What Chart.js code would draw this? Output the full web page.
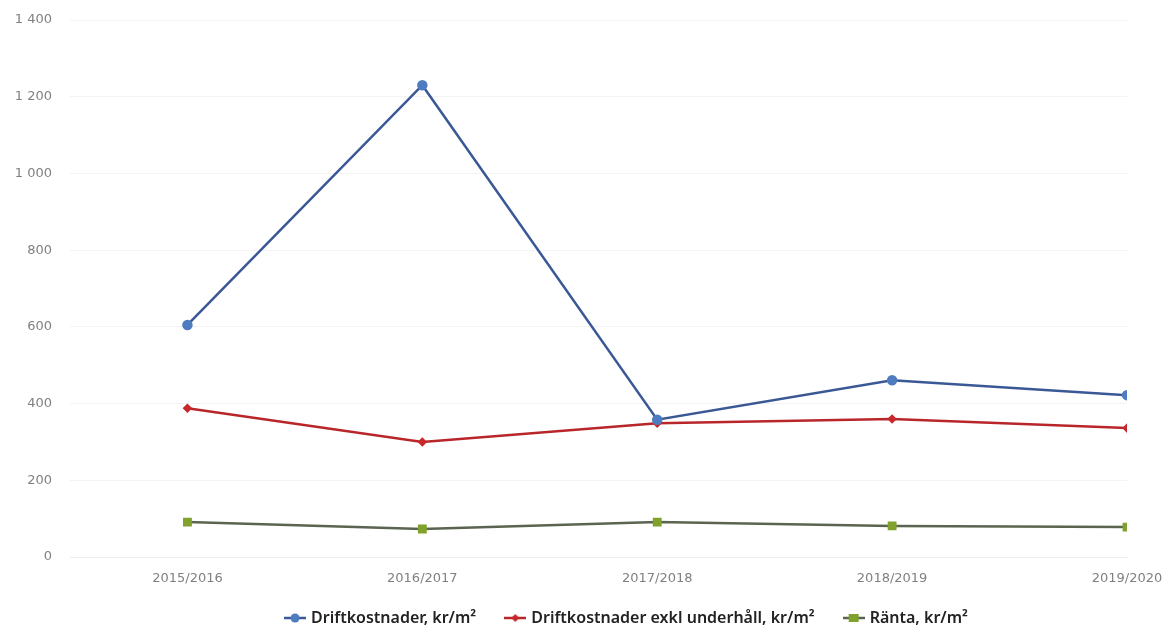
<!DOCTYPE html>
<html>
<head>
<meta charset="utf-8">
<script src="https://cdn.jsdelivr.net/npm/chart.js@4"></script>
<style>
  html, body { margin: 0; padding: 0; background: #fff; }
  #wrap { width: 1169px; height: 628px; }
</style>
</head>
<body>
<div id="wrap"><canvas id="chart"></canvas></div>
<script>
const years = ['2015/2016', '2016/2017', '2017/2018', '2018/2019', '2019/2020'];
const driftkostnader = [605, 1230, 358, 461, 422];
const exklUnderhall = [388, 300, 349, 360, 336];
const ranta = [91, 73, 91, 81, 78];
const yTicks = [0, 200, 400, 600, 800, 1000, 1200, 1400];

const series = [
  { label: 'Driftkostnader, kr/m²', values: driftkostnader, line: '#3a5896', fill: '#4f7cc0', style: 'circle', r: 4 },
  { label: 'Driftkostnader exkl underhåll, kr/m²', values: exklUnderhall, line: '#b8262a', fill: '#c8282c', style: 'rectRot', r: 3 },
  { label: 'Ränta, kr/m²', values: ranta, line: '#5a6450', fill: '#80a22c', style: 'rect', r: 4.5 }
];

// legend symbol: short line with the marker in the middle
function legendIcon(s) {
  const c = document.createElement('canvas');
  c.width = 22; c.height = 12;
  const g = c.getContext('2d');
  g.strokeStyle = s.line; g.lineWidth = 2.5;
  g.beginPath(); g.moveTo(0, 6); g.lineTo(22, 6); g.stroke();
  g.fillStyle = s.fill;
  if (s.style === 'circle') { g.beginPath(); g.arc(11, 6, 4.5, 0, Math.PI * 2); g.fill(); }
  else if (s.style === 'rect') { g.fillRect(6, 2, 10, 8); }
  else { g.beginPath(); g.moveTo(11, 2); g.lineTo(15, 6); g.lineTo(11, 10); g.lineTo(7, 6); g.closePath(); g.fill(); }
  return c;
}

const fmt = v => String(v).replace(/\B(?=(\d{3})+(?!\d))/g, ' ');

// move the legend: centre it like the original and nudge it up a bit
const legendShift = {
  id: 'legendShift',
  afterLayout: chart => {
    const lg = chart.legend;
    lg.left = 86;
    lg.right = chart.width;
    lg.top -= 9;
    lg.bottom -= 9;
  }
};

new Chart(document.getElementById('chart'), {
  type: 'line',
  data: {
    datasets: series.map(s => ({
      label: s.label,
      data: s.values.map((v, i) => ({ x: i, y: v })),
      borderColor: s.line,
      backgroundColor: s.fill,
      borderWidth: 2.5,
      pointStyle: s.style,
      pointRadius: s.r,
      pointBackgroundColor: s.fill,
      pointBorderColor: s.fill,
      tension: 0
    }))
  },
  plugins: [legendShift],
  options: {
    responsive: true,
    maintainAspectRatio: false,
    animation: false,
    layout: { padding: { top: 20, right: 42, left: 0, bottom: -17 } },
    scales: {
      x: {
        type: 'linear',
        min: -0.5,
        max: 4,
        afterBuildTicks: scale => { scale.ticks = years.map((_, i) => ({ value: i })); },
        ticks: {
          callback: v => years[v],
          color: '#808080',
          font: { family: 'DejaVu Sans', size: 13 },
          maxRotation: 0,
          padding: 6
        },
        grid: { display: false },
        border: { color: '#eeeeee' },
        afterFit: scale => { scale.height = 31; }
      },
      y: {
        min: 0,
        max: 1400,
        afterBuildTicks: scale => { scale.ticks = yTicks.map(v => ({ value: v })); },
        ticks: {
          callback: v => fmt(v),
          color: '#808080',
          font: { family: 'DejaVu Sans', size: 13 },
          padding: 18
        },
        grid: { color: '#f3f3f3', drawTicks: false },
        border: { display: false },
        afterFit: scale => {
          scale.width = 70;
          scale.paddingTop = 0;
          scale.paddingBottom = 0;
        }
      }
    },
    plugins: {
      tooltip: { enabled: false },
      legend: {
        position: 'bottom',
        labels: {
          usePointStyle: true,
          pointStyleWidth: 16,
          color: '#222',
          font: { family: 'Noto Sans', size: 16, weight: '600' },
          padding: 31,
          generateLabels: chart => series.map((s, i) => ({
            text: s.label,
            pointStyle: legendIcon(s),
            fontColor: '#222',
            datasetIndex: i,
            hidden: false
          }))
        }
      }
    }
  }
});
</script>
</body>
</html>
